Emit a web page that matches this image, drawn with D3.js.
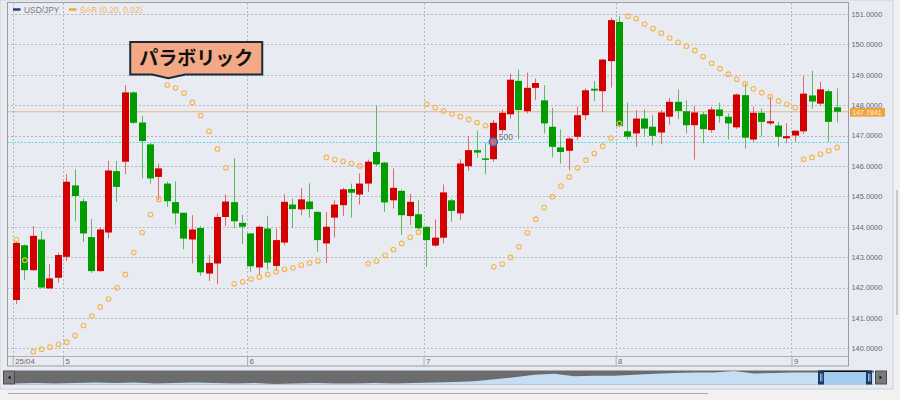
<!DOCTYPE html>
<html><head><meta charset="utf-8">
<script src="https://cdn.jsdelivr.net/npm/d3@7"></script>
<style>
body{margin:0;background:#f1f1f1;}
svg{display:block;font-family:"Liberation Sans",Arial,sans-serif;}
</style>
</head><body>
<svg id="c" width="900" height="400"></svg>
<script>
// ---------- data ----------
const opens  = [141.59,143.39,142.57,143.58,141.97,142.32,143.01,145.36,144.84,143.66,142.54,143.81,145.83,146.14,148.42,147.43,146.71,145.64,145.42,144.81,144.46,143.58,143.96,142.46,142.79,144.32,144.81,144.13,143.78,142.66,143.94,142.71,143.48,144.73,144.57,144.83,144.49,143.45,144.30,144.71,145.24,145.06,145.42,146.46,146.11,144.87,145.18,144.35,144.41,144.00,143.38,143.64,144.87,144.44,145.99,146.52,146.25,146.22,147.18,147.70,148.80,147.80,148.57,148.16,147.29,146.61,146.50,146.96,147.67,148.54,148.46,149.45,150.74,147.14,147.07,147.56,147.29,147.10,147.62,148.11,147.80,147.34,147.70,147.18,147.86,147.62,147.27,148.33,146.87,147.75,147.40,147.33,146.91,147.00,147.14,148.32,148.05,148.46,147.93];
const highs  = [143.50,143.42,144.02,143.86,142.77,143.15,145.73,145.89,144.93,144.25,143.99,146.17,146.16,148.66,148.45,147.65,146.76,146.08,145.48,145.49,144.46,144.38,144.02,143.07,144.44,145.06,146.25,144.40,143.78,144.04,144.36,143.94,145.07,144.93,145.27,145.43,144.50,144.49,144.87,145.28,145.42,145.75,146.21,148.00,146.13,145.92,145.22,145.09,144.87,144.00,144.24,145.39,144.92,146.22,146.98,147.16,146.76,147.51,147.86,149.04,149.17,149.07,148.88,148.66,147.91,147.20,146.96,147.95,148.55,148.79,149.52,150.88,150.93,148.08,147.84,147.86,147.67,147.84,148.24,148.52,148.16,147.97,147.78,147.95,148.08,147.73,148.38,148.71,147.95,147.89,148.27,147.45,147.40,147.16,148.95,149.13,148.77,148.52,148.55];
const lows   = [141.45,142.24,142.55,141.97,141.96,142.16,142.87,144.18,143.50,142.48,142.52,143.61,144.82,145.73,147.38,145.59,145.42,144.87,144.66,144.07,143.26,142.79,142.39,142.21,142.11,144.02,143.96,143.43,142.52,142.39,142.59,142.55,143.39,143.96,144.38,144.30,143.18,142.81,143.65,144.36,144.30,144.73,145.15,146.00,144.49,144.60,143.73,144.05,143.87,142.68,143.34,143.45,144.16,144.22,145.84,146.27,145.73,146.14,147.07,147.56,146.88,147.73,148.16,147.07,146.28,146.08,145.86,146.85,147.51,148.14,147.78,148.58,147.28,146.87,146.63,146.96,146.68,146.72,147.36,147.54,147.07,146.21,146.74,147.09,147.42,146.87,147.22,146.57,146.79,146.96,147.34,146.63,146.76,146.79,147.05,147.88,147.97,146.79,147.43];
const closes = [143.47,142.57,143.70,142.00,142.30,143.07,145.48,145.01,143.78,142.54,143.91,145.85,145.31,148.42,147.42,146.82,145.59,145.92,144.84,144.44,143.61,143.91,142.50,142.81,144.32,144.83,144.18,144.00,142.70,144.00,142.82,143.56,144.82,144.58,144.90,144.58,143.56,144.00,144.73,145.23,145.12,145.42,146.14,146.05,144.80,145.28,144.38,144.82,143.95,143.56,143.64,145.13,144.52,146.08,146.52,146.44,146.20,147.42,147.75,148.84,147.84,148.57,148.73,147.40,146.63,146.46,146.90,147.67,148.49,148.48,149.50,150.80,147.31,146.96,147.56,147.23,146.99,147.76,148.11,147.81,147.34,147.76,147.21,147.86,147.64,147.40,148.35,146.93,147.75,147.45,147.47,146.96,146.98,147.16,148.38,148.12,148.52,147.45,147.7841];
const sarValues = [143.58,142.90,139.89,139.97,140.04,140.13,140.20,140.42,140.75,141.06,141.36,141.62,141.99,142.43,143.15,143.81,144.40,144.90,148.66,148.57,148.40,148.09,147.66,147.14,146.56,145.94,142.12,142.19,142.28,142.35,142.43,142.52,142.60,142.65,142.74,142.81,142.87,146.28,146.21,146.15,146.08,146.00,142.79,142.87,143.06,143.25,143.45,143.65,143.82,148.03,147.92,147.81,147.71,147.62,147.53,147.43,147.33,142.68,142.77,142.99,143.34,143.80,144.25,144.63,144.99,145.34,145.64,145.94,146.19,146.41,146.65,146.92,147.40,150.93,150.85,150.67,150.52,150.37,150.21,150.07,149.94,149.80,149.60,149.38,149.20,149.02,148.85,148.70,148.54,148.41,148.28,148.14,148.03,147.92,146.22,146.28,146.39,146.50,146.61];
const dayTickPos = [-0.39,5.61,27.59,48.66,71.6,92.6];   // in bar-index units
const dayLabels  = ["25/04","5","6","7","8","9"];
const yTickValues = [140,141,142,143,144,145,146,147,148,149,150,151];
const lastPrice = 147.7841;
const refLevel = 146.79;
const markerIndex = 57;
const markerText = "500";
const seriesNames = ["USD/JPY","SAR (0.20, 0.02)"];
const annotationText = "パラボリック";
const annotationIndex = 18;
const navValues = [132.1,133.1,132.1,133.1,134.1,133.1,134.1,132.1,133.1,134.1,133.1,132.1,133.1,131.0,132.1,133.1,132.1,132.1,133.1,132.1,133.1,134.1,135.2,137.2,141.4,145.5,150.7,152.8,147.6,148.6,148.6,150.7,152.8,154.8,155.9,155.9,159.0,153.8,154.8,155.9,155.9,154.8,155.9,155.9];

// ---------- layout ----------
const svg = d3.select("#c");
const P = {l:7, t:3, r:848, b:366, axisTop:356};
const COL = {bg:"#e9ebf2", grid:"#b4b7c1", frame:"#9c9c9c", up:"#d20000", down:"#009c00",
  upWick:"#e06a6a", downWick:"#5cbc5c", sar:"#f6b44c", price:"#e6b487", ref:"#5fd8ea", text:"#6a6a6a"};

const candles = opens.map((o,i)=>({i, o, h:highs[i], l:lows[i], c:closes[i]}));
const x = d3.scaleLinear().domain([0, candles.length-1]).range([16, 836.7]);
const y = d3.scaleLinear().domain([140, 151]).range([348.3, 14]);

// backgrounds
svg.append("rect").attr("x",0).attr("y",0).attr("width",893).attr("height",389)
  .attr("fill",COL.bg).attr("stroke","#cfd1d6");
svg.append("rect").attr("x",896).attr("y",190).attr("width",2).attr("height",125).attr("fill","#c9c9c9");
svg.append("line").attr("x1",8).attr("x2",708).attr("y1",393.5).attr("y2",393.5).attr("stroke","#a9a9a9");

const defs = svg.append("defs");
defs.append("clipPath").attr("id","clip").append("rect")
  .attr("x",P.l).attr("y",P.t).attr("width",P.r-P.l).attr("height",P.axisTop-P.t);

// grid
const g = svg.append("g");
g.selectAll("line.hg").data(yTickValues).join("line").attr("class","hg")
  .attr("x1",P.l).attr("x2",P.r).attr("y1",d=>Math.round(y(d))+0.5).attr("y2",d=>Math.round(y(d))+0.5)
  .attr("stroke",COL.grid).attr("stroke-dasharray","2,2");
g.selectAll("line.vg").data(dayTickPos).join("line").attr("class","vg")
  .attr("x1",d=>Math.round(x(d))+0.5).attr("x2",d=>Math.round(x(d))+0.5).attr("y1",P.t).attr("y2",P.axisTop)
  .attr("stroke",COL.grid).attr("stroke-dasharray","2,2");

const plot = svg.append("g").attr("clip-path","url(#clip)");
// price line and reference line
plot.append("line").attr("x1",P.l).attr("x2",P.r).attr("y1",y(lastPrice)).attr("y2",y(lastPrice))
  .attr("stroke",COL.price).attr("stroke-width",1.2);
plot.append("line").attr("x1",P.l).attr("x2",P.r).attr("y1",Math.round(y(refLevel))+0.5).attr("y2",Math.round(y(refLevel))+0.5)
  .attr("stroke",COL.ref).attr("stroke-dasharray","2,1.5");

// candles
const bw = 7;
const cg = plot.selectAll("g.c").data(candles).join("g");
cg.append("line")
  .attr("x1",d=>Math.round(x(d.i))+0.5).attr("x2",d=>Math.round(x(d.i))+0.5)
  .attr("y1",d=>y(d.h)).attr("y2",d=>y(d.l))
  .attr("stroke",d=>d.c>=d.o?COL.upWick:COL.downWick).attr("stroke-width",1);
cg.append("rect")
  .attr("x",d=>Math.round(x(d.i))+0.5-bw/2).attr("width",bw)
  .attr("y",d=>y(Math.max(d.o,d.c))).attr("height",d=>Math.max(1.5,Math.abs(y(d.o)-y(d.c))))
  .attr("fill",d=>d.c>=d.o?COL.up:COL.down);

// SAR dots
plot.selectAll("circle.sar").data(sarValues).join("circle").attr("class","sar")
  .attr("cx",(d,i)=>x(i)+0.5).attr("cy",d=>y(d)).attr("r",2.3)
  .attr("fill","none").attr("stroke",COL.sar).attr("stroke-width",1.1);

// marker
plot.append("circle").attr("cx",x(markerIndex)).attr("cy",y(refLevel)).attr("r",4)
  .attr("fill","#c3d6ee").attr("fill-opacity",0.5).attr("stroke","#3a6cc8").attr("stroke-width",1.6);
plot.append("text").attr("x",x(markerIndex)+5.5).attr("y",y(refLevel)-1.5)
  .attr("font-size",8.5).attr("fill","#707070").text(markerText);

// frame
svg.append("rect").attr("x",P.l+0.5).attr("y",P.t-0.5).attr("width",P.r-P.l).attr("height",P.b-P.t+0.5)
  .attr("fill","none").attr("stroke",COL.frame);
svg.append("line").attr("x1",P.l).attr("x2",P.r).attr("y1",P.axisTop+0.5).attr("y2",P.axisTop+0.5).attr("stroke","#b0b0b0");

// y axis labels
const ya = svg.append("g").attr("transform",`translate(${P.r},0)`)
  .call(d3.axisRight(y).tickValues(yTickValues).tickFormat(d3.format(".4f")).tickSize(0).tickPadding(3.5));
ya.select(".domain").remove();
ya.selectAll("text").attr("font-size",7.4).attr("fill",COL.text).attr("font-family","Liberation Sans, Arial, sans-serif");

// last price label
const pl = svg.append("g").attr("transform",`translate(${P.r+2},${y(lastPrice)+0.5})`);
pl.append("rect").attr("x",0).attr("y",-4.2).attr("width",35).attr("height",8.6).attr("fill","#f0a23a");
pl.append("text").attr("x",2.2).attr("y",2.7).attr("font-size",7.1).attr("fill","#fff3e0").text(d3.format(".4f")(lastPrice));

// x axis
const xa = svg.append("g").attr("transform",`translate(0,${P.axisTop})`)
  .call(d3.axisBottom(x).tickValues(dayTickPos).tickFormat((d,i)=>dayLabels[i]).tickSize(P.b-P.axisTop).tickPadding(0));
xa.select(".domain").remove();
xa.selectAll(".tick line").attr("stroke","#b0b0b0");
xa.selectAll("text").attr("text-anchor","start").attr("dx",2).attr("y",0).attr("dy",8.3)
  .attr("font-size",7.8).attr("fill",COL.text).attr("font-family","Liberation Sans, Arial, sans-serif");

// legend
const lg = svg.append("g");
const legColors = ["#1e3c8e","#f5a623"], legText = ["#7a7a7a","#f4b560"], legX = [13,69];
seriesNames.forEach((n,k)=>{
  lg.append("line").attr("x1",legX[k]).attr("x2",legX[k]+7.5).attr("y1",9.5).attr("y2",9.5)
    .attr("stroke",legColors[k]).attr("stroke-width",2.4);
  lg.append("text").attr("x",legX[k]+11).attr("y",12.6).attr("font-size",8.4).attr("fill",legText[k]).text(n);
});

// annotation callout
const tx = x(annotationIndex)+1.5, ty = y(sarValues[annotationIndex])-7;
const bx0 = tx-38, bx1 = tx+94, by0 = ty-36, by1 = ty-3.5;
svg.append("path")
  .attr("d",`M${bx0},${by0}H${bx1}V${by1}H${tx+17}L${tx},${ty}L${tx-16},${by1}H${bx0}Z`)
  .attr("fill","#f3a986").attr("stroke","#1c2a38").attr("stroke-width",2).attr("stroke-linejoin","miter");
svg.append("text").attr("x",(bx0+bx1)/2).attr("y",by1-9.5).attr("text-anchor","middle")
  .attr("font-family","'Noto Sans CJK JP',sans-serif").attr("font-weight","bold").attr("font-size",19)
  .attr("fill","#111").text(annotationText);

// navigator
const nav = {l:15, r:874, t:370.5, b:384.5};
const nx = d3.scaleLinear().domain([0,navValues.length-1]).range([nav.l,nav.r]);
const ny = d3.scaleLinear().domain([130,160]).range([nav.b,nav.t]);
svg.append("rect").attr("x",nav.l).attr("y",nav.t).attr("width",nav.r-nav.l).attr("height",nav.b-nav.t).attr("fill","#6c6c6c");
svg.append("path").datum(navValues)
  .attr("d",d3.area().x((d,i)=>nx(i)).y0(nav.b).y1(d=>ny(d)))
  .attr("fill","#c5def4");
const win = {l:820, r:869};
svg.append("rect").attr("x",win.l).attr("y",nav.t).attr("width",win.r-win.l).attr("height",nav.b-nav.t).attr("fill","#a3cbef");
svg.append("line").attr("x1",win.l).attr("x2",win.r).attr("y1",nav.t+0.8).attr("y2",nav.t+0.8).attr("stroke","#111").attr("stroke-width",1.6);
[win.l-2, win.r-3].forEach(hx=>{
  svg.append("rect").attr("x",hx).attr("y",nav.t).attr("width",6).attr("height",nav.b-nav.t).attr("fill","#173a6b");
  svg.append("line").attr("x1",hx+2.5).attr("x2",hx+2.5).attr("y1",nav.t+3).attr("y2",nav.b-3).attr("stroke","#c8d8ea").attr("stroke-width",0.8);
  svg.append("line").attr("x1",hx+4).attr("x2",hx+4).attr("y1",nav.t+3).attr("y2",nav.b-3).attr("stroke","#c8d8ea").attr("stroke-width",0.8);
});
[[3,"M8,377.5L10.5,375.5V379.5Z"],[875,"M882,377.5L879.5,375.5V379.5Z"]].forEach(([bx,p])=>{
  svg.append("rect").attr("x",bx+0.5).attr("y",nav.t+0.5).attr("width",11).attr("height",nav.b-nav.t-1)
    .attr("fill","#7a7a7a").attr("stroke","#4a4a4a");
  svg.append("path").attr("d",p).attr("fill","#111");
});
</script>
</body></html>
